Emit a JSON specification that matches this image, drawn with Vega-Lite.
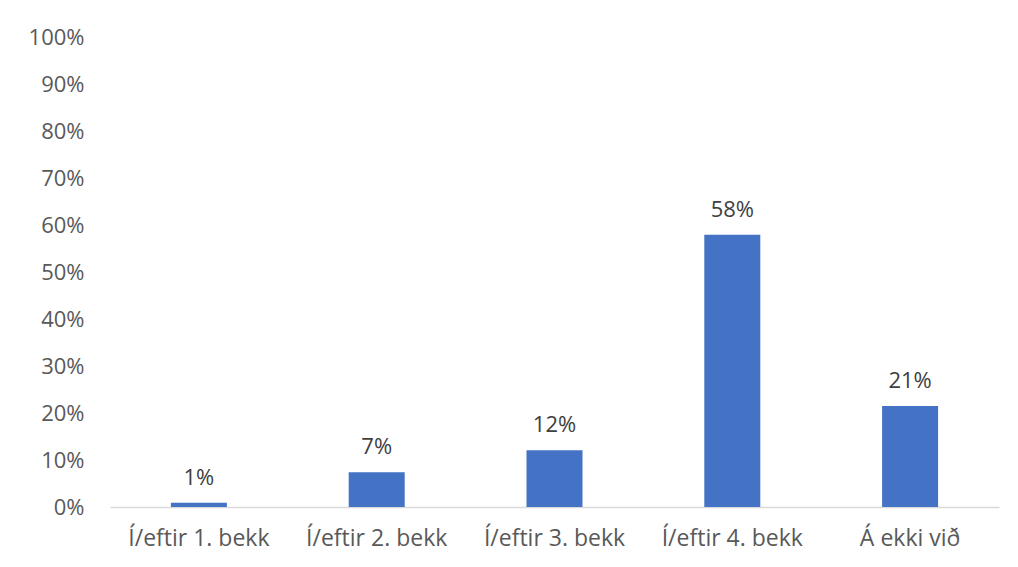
{
  "$schema": "https://vega.github.io/schema/vega-lite/v6.json",
  "autosize": {"type": "none"},
  "padding": {"left": 110, "top": 37, "right": 19, "bottom": 60},
  "width": 889,
  "height": 470,
  "background": "white",
  "config": {
    "view": {"stroke": null},
    "font": "Open Sans",
    "axis": {"labelFont": "Open Sans", "labelColor": "#595959", "labelFontSize": 22}
  },
  "data": {
    "values": [
      {"category": "Í/eftir 1. bekk", "value": 0.009, "label": "1%"},
      {"category": "Í/eftir 2. bekk", "value": 0.074, "label": "7%"},
      {"category": "Í/eftir 3. bekk", "value": 0.121, "label": "12%"},
      {"category": "Í/eftir 4. bekk", "value": 0.579, "label": "58%"},
      {"category": "Á ekki við", "value": 0.215, "label": "21%"}
    ]
  },
  "encoding": {
    "x": {
      "field": "category",
      "type": "nominal",
      "sort": null,
      "scale": {"paddingInner": 0.685, "paddingOuter": 0.3425},
      "axis": {
        "title": null,
        "labelAngle": 0,
        "ticks": false,
        "domainColor": "#D9D9D9",
        "domainWidth": 1.5,
        "labelPadding": 20,
        "labelFontSize": 23,
        "labelOverlap": false
      }
    },
    "y": {
      "field": "value",
      "type": "quantitative",
      "scale": {"domain": [0, 1]},
      "axis": {
        "title": null,
        "format": ".0%",
        "values": [0, 0.1, 0.2, 0.3, 0.4, 0.5, 0.6, 0.7, 0.8, 0.9, 1],
        "grid": false,
        "domain": false,
        "ticks": false,
        "labelPadding": 26,
        "labelOverlap": false
      }
    }
  },
  "layer": [
    {"mark": {"type": "bar", "color": "#4472C4"}},
    {
      "mark": {"type": "text", "baseline": "bottom", "dy": -13, "fontSize": 22, "color": "#404040", "font": "Open Sans"},
      "encoding": {"text": {"field": "label"}}
    }
  ]
}
